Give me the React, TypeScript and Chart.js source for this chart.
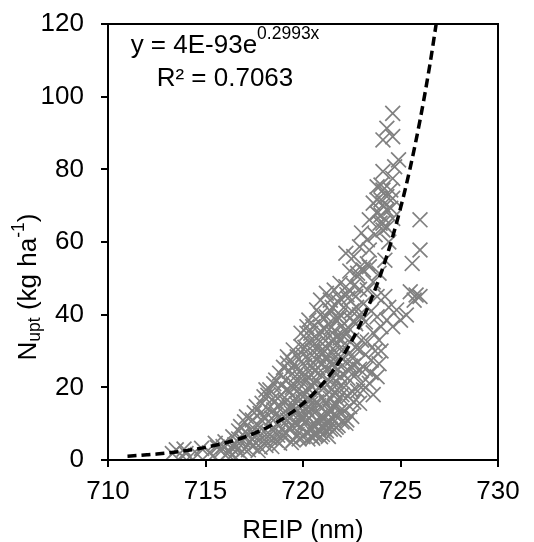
import React, { useEffect, useRef } from 'react';
import { Chart, registerables } from 'chart.js';

Chart.register(...registerables);

const FONT = '"Liberation Sans", Arial, Helvetica, sans-serif';

// Axis ticks
const X_MIN = 710;
const X_MAX = 730;
const X_STEP = 5;
const Y_MIN = 0;
const Y_MAX = 120;
const Y_STEP = 20;

// Text
const X_TITLE = 'REIP (nm)';
const EQ_MAIN = 'y = 4E-93e';
const EQ_EXP = '0.2993x';
const R2_TEXT = 'R² = 0.7063';

// Exponential trendline
const TREND_X = [711, 711.5, 712, 712.5, 713, 713.5, 714, 714.5, 715, 715.5, 716, 716.5, 717, 717.5, 718, 718.5, 719, 719.5, 720, 720.5, 721, 721.5, 722, 722.5, 723, 723.5, 724, 724.5, 725, 725.5, 726, 726.5, 727];
const TREND_Y = [1.05, 1.22, 1.42, 1.64, 1.91, 2.22, 2.58, 2.99, 3.47, 4.04, 4.69, 5.44, 6.32, 7.34, 8.53, 9.9, 11.5, 13.36, 15.52, 18.02, 20.93, 24.31, 28.23, 32.79, 38.09, 44.24, 51.38, 59.67, 69.31, 80.49, 93.49, 108.6, 126.1];

// Observations: REIP (nm) and N uptake (kg/ha)
const REIP_NM = [
  713.3, 713.5, 713.8, 714.0, 714.2, 714.8, 714.6, 713.9,
  715.2, 715.6, 715.9, 715.4, 716.0, 715.8, 716.1, 715.5,
  716.4, 716.6, 716.9, 716.3, 716.7, 716.8, 716.5, 716.2, 717.0, 716.9, 716.4, 716.7, 717.0, 716.6, 716.8,
  717.1, 717.3, 717.4, 717.6, 717.6, 717.8, 717.9, 718.0, 717.2, 717.5, 717.7, 717.9, 717.3, 717.8, 718.0, 717.5, 717.2, 717.7, 717.9, 717.4, 718.0, 717.6,
  718.1, 718.3, 718.5, 718.8, 718.9, 718.2, 718.4, 718.6, 718.8, 718.3, 718.5, 718.7, 718.9, 718.1, 718.4, 718.6, 718.8, 719.0, 718.2, 718.5, 718.7, 718.9, 718.3, 718.6, 719.0, 718.4, 718.7, 719.0, 718.2, 718.9,
  719.2, 719.2, 719.5, 719.7, 719.9, 719.9, 719.1, 719.3, 719.5, 719.7, 719.9, 719.1, 719.3, 719.5, 719.7, 719.9, 719.2, 719.4, 719.6, 719.8, 720.0, 719.1, 719.3, 719.5, 719.7, 719.9, 719.4, 719.8, 720.0, 719.6, 719.8, 719.3, 719.5, 719.7, 720.0, 719.6, 719.2, 719.4, 719.9, 720.0,
  720.2, 720.4, 720.5, 720.2, 720.7, 720.9, 720.8,
  720.1, 720.3, 720.5, 720.7, 720.9,
  720.1, 720.3, 720.5, 720.7, 720.9,
  720.2, 720.4, 720.6, 720.8, 721.0,
  720.1, 720.3, 720.5, 720.7, 720.9,
  720.2, 720.4, 720.6, 720.8, 721.0,
  720.1, 720.3, 720.5, 720.7, 720.9,
  720.2, 720.4, 720.6, 720.8, 721.0,
  720.9, 720.5, 720.3, 720.6, 720.8, 720.4, 720.7, 720.9, 720.6, 720.3, 720.0, 720.8, 721.0,
  721.2, 721.4, 721.2, 721.6, 721.9, 721.5, 721.8,
  721.1, 721.3, 721.5, 721.7, 721.9,
  721.1, 721.3, 721.5, 721.7, 721.9,
  721.2, 721.4, 721.6, 721.8, 722.0,
  721.1, 721.3, 721.5, 721.7, 721.9,
  721.2, 721.4, 721.6, 721.8, 722.0,
  721.1, 721.3, 721.5, 721.7, 721.9,
  721.2, 721.4, 721.6, 721.8, 722.0,
  721.3, 721.0, 721.5, 721.7, 721.4, 721.6, 721.8, 722.0, 721.9, 721.2, 721.4, 721.6, 721.7,
  722.2, 722.8, 722.2, 722.6, 722.9, 722.8, 722.4,
  722.1, 722.3, 722.5, 722.7, 722.9,
  722.1, 722.3, 722.5, 722.7, 722.9,
  722.2, 722.4, 722.6, 722.8, 723.0,
  722.1, 722.3, 722.5, 722.7, 722.9,
  722.1, 722.4, 722.6, 722.9, 722.8,
  722.2, 722.5, 723.0, 722.4, 722.6, 722.7, 722.3, 722.9,
  723.1, 723.3, 723.4, 723.3, 723.4, 723.8, 723.6, 723.8, 723.8, 723.8,
  723.4, 723.8, 723.1, 723.2, 723.5, 723.7, 723.3, 723.6, 723.2, 723.5,
  723.1, 723.6, 723.3, 723.7, 723.5, 723.9, 723.2, 723.9, 723.6, 723.0,
  723.4, 723.9, 723.95, 724.3,
  724.0, 724.3, 724.8, 725.0, 724.6, 725.3, 724.1, 724.3, 724.0, 724.1,
  724.6, 724.3, 724.6, 724.1, 724.9, 724.7, 724.1, 724.6, 724.0, 724.5,
  724.3, 723.8, 724.6, 724.1, 724.5, 724.0, 724.6, 724.1, 726.0, 726.0,
  725.6, 725.5, 725.8, 726.0, 725.7, 724.2, 724.0, 724.4, 724.2, 724.4,
  720.15, 720.35, 720.55, 720.75, 720.95, 721.15, 721.35, 721.55, 721.75, 721.95, 722.15, 722.35, 722.55, 722.75,
  720.25, 720.45, 720.65, 720.85, 721.05, 721.25, 721.45, 721.65, 721.85, 722.05, 722.25, 722.45, 722.65,
  719.45, 719.65, 719.85, 719.35, 719.75,
  721.05, 721.45, 721.85, 722.25,
];
const N_UPT = [
  1.8, 2.8, 1.2, 1.8, 0.9, 3.2, 1.5, 3.0,
  2.0, 3.5, 3.7, 1.2, 5.0, 2.5, 1.8, 4.6,
  6.4, 2.8, 5.5, 3.5, 8.0, 9.2, 4.2, 2.2, 3.0, 7.0, 1.5, 5.8, 10.5, 3.9, 2.0,
  11.9, 8.3, 11.0, 4.6, 14.7, 12.8, 15.6, 17.4, 2.8, 6.5, 9.5, 7.2, 5.0, 3.5, 5.5, 13.0, 6.8, 2.6, 10.8, 3.8, 12.0, 8.0,
  19.3, 19.3, 21.0, 23.9, 18.0, 14.0, 16.5, 12.5, 15.0, 10.0, 8.0, 9.8, 11.2, 4.0, 3.7, 5.5, 4.6, 6.5, 7.5, 13.8, 17.0, 20.5, 6.0, 22.0, 13.0, 11.5, 6.8, 25.5, 17.8, 8.5,
  26.6, 28.4, 30.3, 28.4, 31.2, 34.9, 22.0, 24.5, 21.0, 25.0, 27.0, 16.0, 18.5, 15.0, 19.0, 22.5, 11.0, 13.0, 10.0, 12.5, 16.0, 7.5, 8.5, 5.5, 7.0, 9.0, 4.8, 5.8, 6.4, 17.0, 21.0, 14.5, 26.0, 13.5, 24.0, 23.0, 19.5, 9.5, 18.0, 29.0,
  34.9, 34.9, 36.7, 36.7, 41.3, 44.0, 38.0,
  31.0, 32.5, 30.0, 33.5, 35.5,
  26.0, 28.0, 25.5, 27.5, 30.0,
  22.0, 23.5, 21.0, 24.0, 26.5,
  18.0, 19.5, 17.0, 19.0, 20.5,
  14.0, 15.5, 13.0, 15.0, 17.0,
  10.5, 11.5, 9.5, 11.0, 12.0,
  7.5, 8.0, 6.8, 8.5, 9.0,
  6.4, 6.0, 13.0, 24.5, 28.5, 20.5, 16.0, 40.0, 32.0, 38.5, 11.5, 10.5, 32.0,
  39.4, 44.0, 45.9, 46.8, 48.6, 42.0, 43.5,
  36.0, 37.5, 35.0, 38.5, 40.0,
  30.0, 32.0, 29.5, 31.5, 33.5,
  25.0, 27.0, 24.0, 26.5, 28.0,
  20.0, 22.0, 19.5, 21.5, 23.0,
  15.5, 17.0, 14.5, 16.5, 18.0,
  11.5, 12.5, 10.0, 12.0, 13.5,
  8.0, 8.5, 8.3, 9.5, 10.5,
  6.5, 7.0, 26.0, 34.0, 41.0, 18.5, 29.0, 37.0, 44.5, 28.5, 14.0, 33.0, 9.0,
  47.7, 50.5, 56.9, 56.0, 58.7, 51.4, 52.0,
  42.0, 44.5, 41.0, 45.0, 47.0,
  34.0, 36.5, 33.0, 37.5, 40.0,
  27.0, 29.5, 26.0, 30.5, 33.0,
  20.0, 22.5, 19.0, 23.5, 25.0,
  13.5, 14.7, 16.0, 15.6, 19.0,
  10.1, 12.0, 21.0, 39.0, 48.0, 31.0, 17.5, 53.0,
  52.3, 60.6, 57.8, 46.8, 66.1, 67.9, 70.7, 75.2, 45.0, 39.4,
  21.1, 22.9, 19.3, 25.0, 27.5, 30.0, 32.5, 35.0, 38.0, 41.0,
  43.0, 49.0, 54.0, 62.0, 24.0, 33.0, 29.0, 26.5, 18.0, 62.5,
  53.2, 51.4, 65.2, 64.0,
  36.7, 38.5, 41.3, 38.5, 36.7, 39.9, 63.3, 68.8, 71.6, 74.3,
  95.4, 91.3, 89.0, 88.1, 82.6, 80.7, 79.4, 77.5, 75.7, 74.3,
  72.5, 71.6, 72.0, 70.2, 69.3, 67.4, 66.5, 65.2, 66.1, 57.8,
  54.1, 46.3, 45.4, 45.0, 44.0, 45.0, 30.0, 42.0, 55.0, 60.0,
  12.5, 16.5, 21.5, 25.5, 29.0, 9.5, 13.5, 22.5, 27.5, 31.0, 35.5, 24.5, 28.0, 42.0,
  5.8, 6.5, 7.2, 7.9, 8.6, 10.2, 11.8, 15.2, 19.8, 23.6, 11.0, 25.8, 38.0,
  20.0, 15.5, 11.5, 27.5, 9.8,
  33.5, 36.5, 39.0, 45.5,
];

const MAIN_SIZE = 26;
const SMALL_SIZE = 17.5;

type Part = { t: string; size: number; dy: number };

function drawParts(ctx: CanvasRenderingContext2D, parts: Part[], cx: number, baseY: number) {
  let total = 0;
  for (const p of parts) {
    ctx.font = `${p.size}px ${FONT}`;
    total += ctx.measureText(p.t).width;
  }
  let x = cx - total / 2;
  for (const p of parts) {
    ctx.font = `${p.size}px ${FONT}`;
    ctx.fillText(p.t, x, baseY + p.dy);
    x += ctx.measureText(p.t).width;
  }
}

const overlayPlugin = {
  id: 'overlay',
  afterDraw(chart: any) {
    const { ctx, chartArea: a } = chart;
    ctx.save();
    // frame
    ctx.strokeStyle = '#000';
    ctx.lineWidth = 2;
    ctx.strokeRect(a.left, a.top, a.right - a.left, a.bottom - a.top);
    // equation
    ctx.fillStyle = '#000';
    ctx.textAlign = 'left';
    ctx.textBaseline = 'alphabetic';
    const eqX = a.left + 117;
    drawParts(ctx, [
      { t: EQ_MAIN, size: MAIN_SIZE, dy: 0 },
      { t: EQ_EXP, size: SMALL_SIZE, dy: -14 },
    ], eqX, a.top + 29);
    drawParts(ctx, [{ t: R2_TEXT, size: MAIN_SIZE, dy: 0 }], eqX, a.top + 62);
    // y axis title
    ctx.translate(36, (a.top + a.bottom) / 2 + 45);
    ctx.rotate(-Math.PI / 2);
    drawParts(ctx, [
      { t: 'N', size: MAIN_SIZE, dy: 0 },
      { t: 'upt', size: SMALL_SIZE, dy: 4 },
      { t: ' (kg ha', size: MAIN_SIZE, dy: 0 },
      { t: '-1', size: SMALL_SIZE, dy: -12 },
      { t: ')', size: MAIN_SIZE, dy: 0 },
    ], 0, 0);
    ctx.restore();
  },
};

export default function App() {
  const ref = useRef<HTMLCanvasElement>(null);
  useEffect(() => {
    if (!ref.current) return;
    const tickFont = { family: FONT, size: MAIN_SIZE };
    const chart = new Chart(ref.current, {
      type: 'scatter',
      data: {
        datasets: [
          {
            label: 'Expon. trend',
            data: TREND_X.map((x, i) => ({ x, y: TREND_Y[i] })),
            showLine: true,
            borderColor: '#000',
            borderWidth: 3.5,
            borderDash: [9, 5],
            pointRadius: 0,
            fill: false,
            cubicInterpolationMode: 'monotone',
          } as any,
          {
            label: 'Nupt',
            data: REIP_NM.map((x, i) => ({ x, y: N_UPT[i] })),
            pointStyle: 'crossRot',
            pointRadius: 10.5,
            borderColor: 'rgb(128,128,128)',
            backgroundColor: 'rgb(128,128,128)',
            pointBorderWidth: 1.7,
            showLine: false,
          } as any,
        ],
      },
      options: {
        animation: false,
        responsive: false,
        events: [],
        layout: { padding: { top: 24, right: 36, bottom: 0, left: 0 } },
        plugins: { legend: { display: false }, tooltip: { enabled: false } },
        scales: {
          x: {
            type: 'linear',
            min: X_MIN,
            max: X_MAX,
            ticks: { stepSize: X_STEP, color: '#000', font: tickFont, padding: 9, maxRotation: 0 },
            grid: { drawOnChartArea: false, drawTicks: true, tickLength: 7, color: '#000', lineWidth: 2 },
            border: { display: true, color: '#000', width: 2 },
            title: {
              display: true,
              text: X_TITLE,
              color: '#000',
              font: { family: FONT, size: MAIN_SIZE, lineHeight: 1 },
              padding: { top: 0, bottom: -2 },
            },
            afterFit: (s: any) => { s.height = 82; s.paddingLeft = 10; s.paddingRight = 10; },
          },
          y: {
            type: 'linear',
            min: Y_MIN,
            max: Y_MAX,
            ticks: { stepSize: Y_STEP, color: '#000', font: tickFont, padding: 17 },
            grid: { drawOnChartArea: false, drawTicks: true, tickLength: 7, color: '#000', lineWidth: 2 },
            border: { display: true, color: '#000', width: 2 },
            afterFit: (s: any) => { s.width = 108; s.paddingTop = 12; s.paddingBottom = 12; },
          },
        },
      },
      plugins: [overlayPlugin],
    });
    return () => chart.destroy();
  }, []);
  return (
    <div style={{ position: 'absolute', left: 0, top: 0, width: 534, height: 542, background: '#fff' }}>
      <canvas ref={ref} width={534} height={542} style={{ display: 'block' }} />
    </div>
  );
}
